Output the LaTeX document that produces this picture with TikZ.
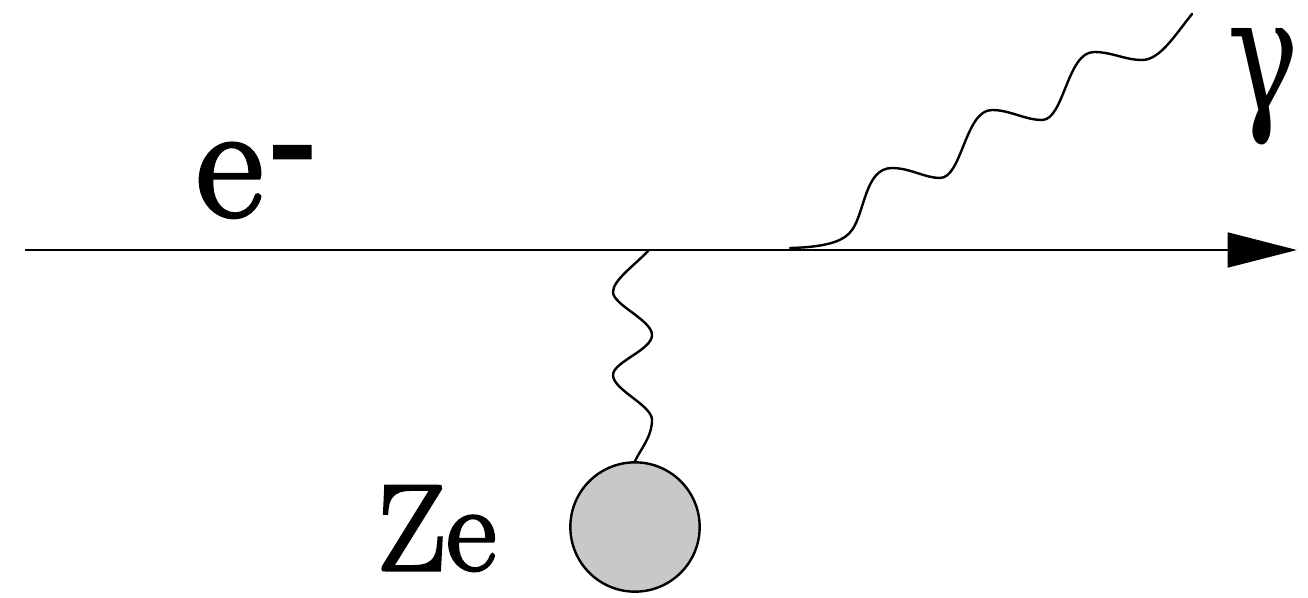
\documentclass[tikz,border=0pt]{standalone}
\usepackage{fontspec}
\newfontfamily\greekfont{DejaVu Serif}
\newfontfamily\labelfont{Latin Modern Roman}[FakeBold=2.5]
\usetikzlibrary{arrows.meta}
\definecolor{nucleusgray}{RGB}{200,200,200}
\tikzset{
  fermion/.style={line width=2.1pt, -{Triangle[length=52pt,width=26pt]}},
  boson/.style={line width=1.8pt, line cap=round},
  label/.style={inner sep=0pt, anchor=base west},
}
\begin{document}
\begin{tikzpicture}[x=0.75pt,y=-0.75pt]
\useasboundingbox (0,0) rectangle (1308,598);
% coordinates
\coordinate (start) at (25,250);
\coordinate (vertex) at (649,250);
\coordinate (emit) at (790,248);
\coordinate (gend) at (1192,14);
\coordinate (end) at (1297,250);
% nucleus
\node[circle, draw, line width=1.8pt, fill=nucleusgray, minimum size=97pt, inner sep=0pt] (nuc) at (635,527) {};
% labels
\node[label, font=\labelfont\fontsize{123}{130}\selectfont] (elab) at (196,216) {e\kern0.07em\raisebox{0.11em}{\scalebox{0.85}[1.3]{-}}};
\node[label, font=\greekfont\fontsize{100}{110}\selectfont] (glab) at (1227,112) {\scalebox{0.9}[1.2]{γ}};
\node[label, font=\labelfont\fontsize{92}{100}\selectfont] (zlab) at (377,570) {Ze};
% electron line
\draw[fermion] (start) -- (end);
% virtual photon to nucleus
\draw[boson] (vertex) .. controls (635,265) and (613,280) .. (613,292)
  .. controls (613,305) and (652,320) .. (652,335)
  .. controls (652,350) and (613,362) .. (613,375)
  .. controls (613,390) and (652,405) .. (652,420)
  .. controls (652,437) and (640,450) .. (nuc.north);
% emitted photon
\draw[boson] (emit) .. controls (830,247) and (845,240) .. (852,230)
  .. controls (865,212) and (865,168) .. (892,168)
  .. controls (910,168) and (925,178) .. (940,178)
  .. controls (962,178) and (965,110) .. (992,110)
  .. controls (1010,110) and (1025,120) .. (1042,120)
  .. controls (1064,120) and (1067,52) .. (1094,52)
  .. controls (1112,52) and (1125,60) .. (1142,60)
  .. controls (1160,60) and (1175,35) .. (gend);
\end{tikzpicture}
\end{document}
